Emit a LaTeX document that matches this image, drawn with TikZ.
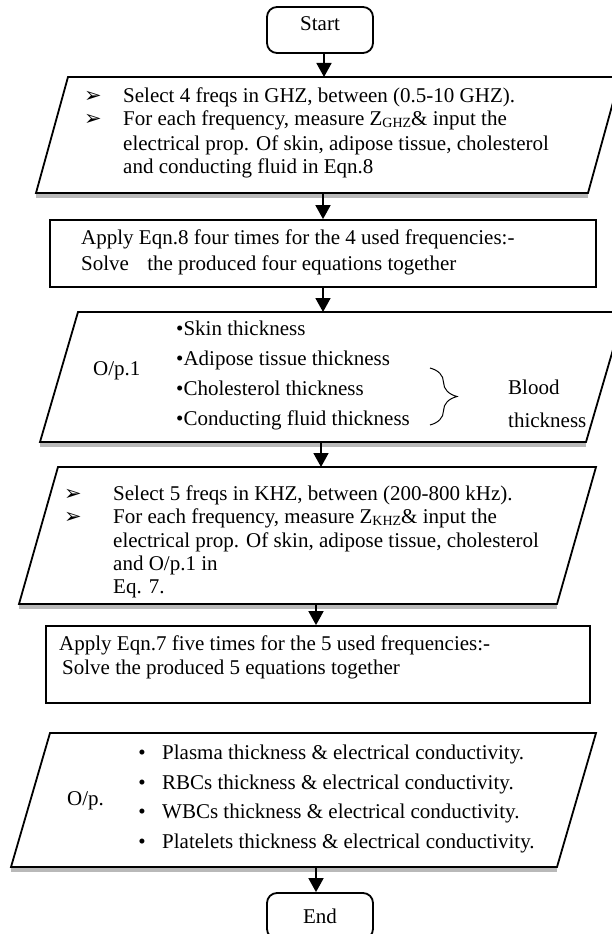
\documentclass[tikz,border=0pt]{standalone}
\usepackage{fontspec}
\setmainfont{Liberation Serif}
\newfontfamily\symfont{DejaVu Sans}
\usetikzlibrary{arrows.meta,decorations.pathreplacing}

\newcommand{\arrowbul}{{\symfont\fontsize{21}{21}\selectfont ➢}}
\newcommand{\subtxt}[1]{\raisebox{-0.25ex}{\fontsize{14}{14}\selectfont #1}}

\begin{document}
\begin{tikzpicture}[x=1pt, y=-1pt,
  every node/.style={inner sep=0pt, font=\fontsize{21}{24}\selectfont},
  line/.style={anchor=base west},
  bulmark/.style={anchor=base},
  flow/.style={line width=1.8pt, -{Triangle[width=15pt,length=14pt]}},
  termbox/.style={draw, line width=1.8pt, rounded corners=10pt, minimum width=106pt, minimum height=46pt},
  procbox/.style={draw, line width=1.8pt},
  iobox/.style={draw, line width=1.8pt},
  ioshadow/.style={draw=gray!55, line width=4pt}]

  \useasboundingbox (0,0) rectangle (612,934);
  \clip (0,0) rectangle (612,934);

  % start / end
  \node[termbox, text height=12pt, text depth=11pt] (start) at (320,30) {Start};
  \node[termbox] (stop) at (320,916) {End};

  % input 1
  \draw[ioshadow] (36,195.5) -- (588,195.5);
  \draw[iobox] (68,77) -- (620,77) -- (588,193) -- (36,193) -- cycle;
  \coordinate (in1-n) at (324,77);
  \coordinate (in1-s) at (323,193);
  \node[bulmark] (in1-ma) at (93,102) {\arrowbul};
  \node[bulmark] (in1-mb) at (93,125) {\arrowbul};
  \node[line] (in1-a) at (123,102) {Select 4 freqs in GHZ, between (0.5-10 GHZ).};
  \node[line] (in1-b) at (123,125) {For each frequency, measure Z\subtxt{GHZ}\& input the};
  \node[line] (in1-c) at (123,150) {electrical prop. Of skin, adipose tissue, cholesterol};
  \node[line] (in1-d) at (123,173) {and conducting fluid in Eqn.8};

  % process 1
  \node[procbox, minimum width=546pt, minimum height=67pt] (proc1) at (323,253.5) {};
  \node[line] (proc1-a) at (81,244) {Apply Eqn.8 four times for the 4 used frequencies:-};
  \node[line] (proc1-b) at (81,270) {Solve\hspace{13pt} the produced four equations together};

  % output 1
  \draw[ioshadow] (40,444.5) -- (586,444.5);
  \draw[iobox] (78,312) -- (624,312) -- (586,442) -- (40,442) -- cycle;
  \coordinate (out1-n) at (323,312);
  \coordinate (out1-s) at (321,442);
  \node[line] (out1-lbl) at (93,375) {O/p.1};
  \node[line] (out1-a) at (176,335) {•Skin thickness};
  \node[line] (out1-b) at (176,365) {•Adipose tissue thickness};
  \node[line] (out1-c) at (176,395) {•Cholesterol thickness};
  \node[line] (out1-d) at (176,425) {•Conducting fluid thickness};
  \draw[line width=1pt, decorate, decoration={brace, amplitude=27pt}] (430,368) -- (430,425);
  \node[line] (blood-a) at (508,394) {Blood};
  \node[line] (blood-b) at (508,427) {thickness};

  % input 2
  \draw[ioshadow] (19,606.5) -- (557,606.5);
  \draw[iobox] (58,467) -- (596,467) -- (557,604) -- (19,604) -- cycle;
  \coordinate (in2-n) at (321,467);
  \coordinate (in2-s) at (316,604);
  \node[bulmark] (in2-ma) at (73,500) {\arrowbul};
  \node[bulmark] (in2-mb) at (73,523) {\arrowbul};
  \node[line] (in2-a) at (113,500) {Select 5 freqs in KHZ, between (200-800 kHz).};
  \node[line] (in2-b) at (113,523) {For each frequency, measure Z\subtxt{KHZ}\& input the};
  \node[line] (in2-c) at (113,547) {electrical prop. Of skin, adipose tissue, cholesterol};
  \node[line] (in2-d) at (113,570) {and O/p.1 in};
  \node[line] (in2-e) at (113,593) {Eq. 7.};

  % process 2
  \node[procbox, minimum width=544pt, minimum height=77pt] (proc2) at (318,664.5) {};
  \node[line] (proc2-a) at (59,650) {Apply Eqn.7 five times for the 5 used frequencies:-};
  \node[line] (proc2-b) at (62,674) {Solve the produced 5 equations together};

  % output 2
  \draw[ioshadow] (11,869.5) -- (557,869.5);
  \draw[iobox] (50,733) -- (596,733) -- (557,867) -- (11,867) -- cycle;
  \coordinate (out2-s) at (316,867);
  \node[line] (out2-lbl) at (67,805) {O/p.};
  \node[bulmark] (out2-ma) at (142,759) {•};
  \node[bulmark] (out2-mb) at (142,789) {•};
  \node[bulmark] (out2-mc) at (142,818) {•};
  \node[bulmark] (out2-md) at (142,848) {•};
  \node[line] (out2-a) at (162,759) {Plasma thickness \& electrical conductivity.};
  \node[line] (out2-b) at (162,789) {RBCs thickness \& electrical conductivity.};
  \node[line] (out2-c) at (162,818) {WBCs thickness \& electrical conductivity.};
  \node[line] (out2-d) at (162,848) {Platelets thickness \& electrical conductivity.};

  % connectors
  \draw[flow] (start.south -| in1-n) -- (in1-n);
  \draw[flow] (in1-s) -- (in1-s |- proc1.north);
  \draw[flow] (proc1.south -| out1-n) -- (out1-n);
  \draw[flow] (out1-s) -- (in2-n);
  \draw[flow] (in2-s) -- (in2-s |- proc2.north);
  \draw[flow] (out2-s) -- (out2-s |- stop.north);
\end{tikzpicture}
\end{document}
